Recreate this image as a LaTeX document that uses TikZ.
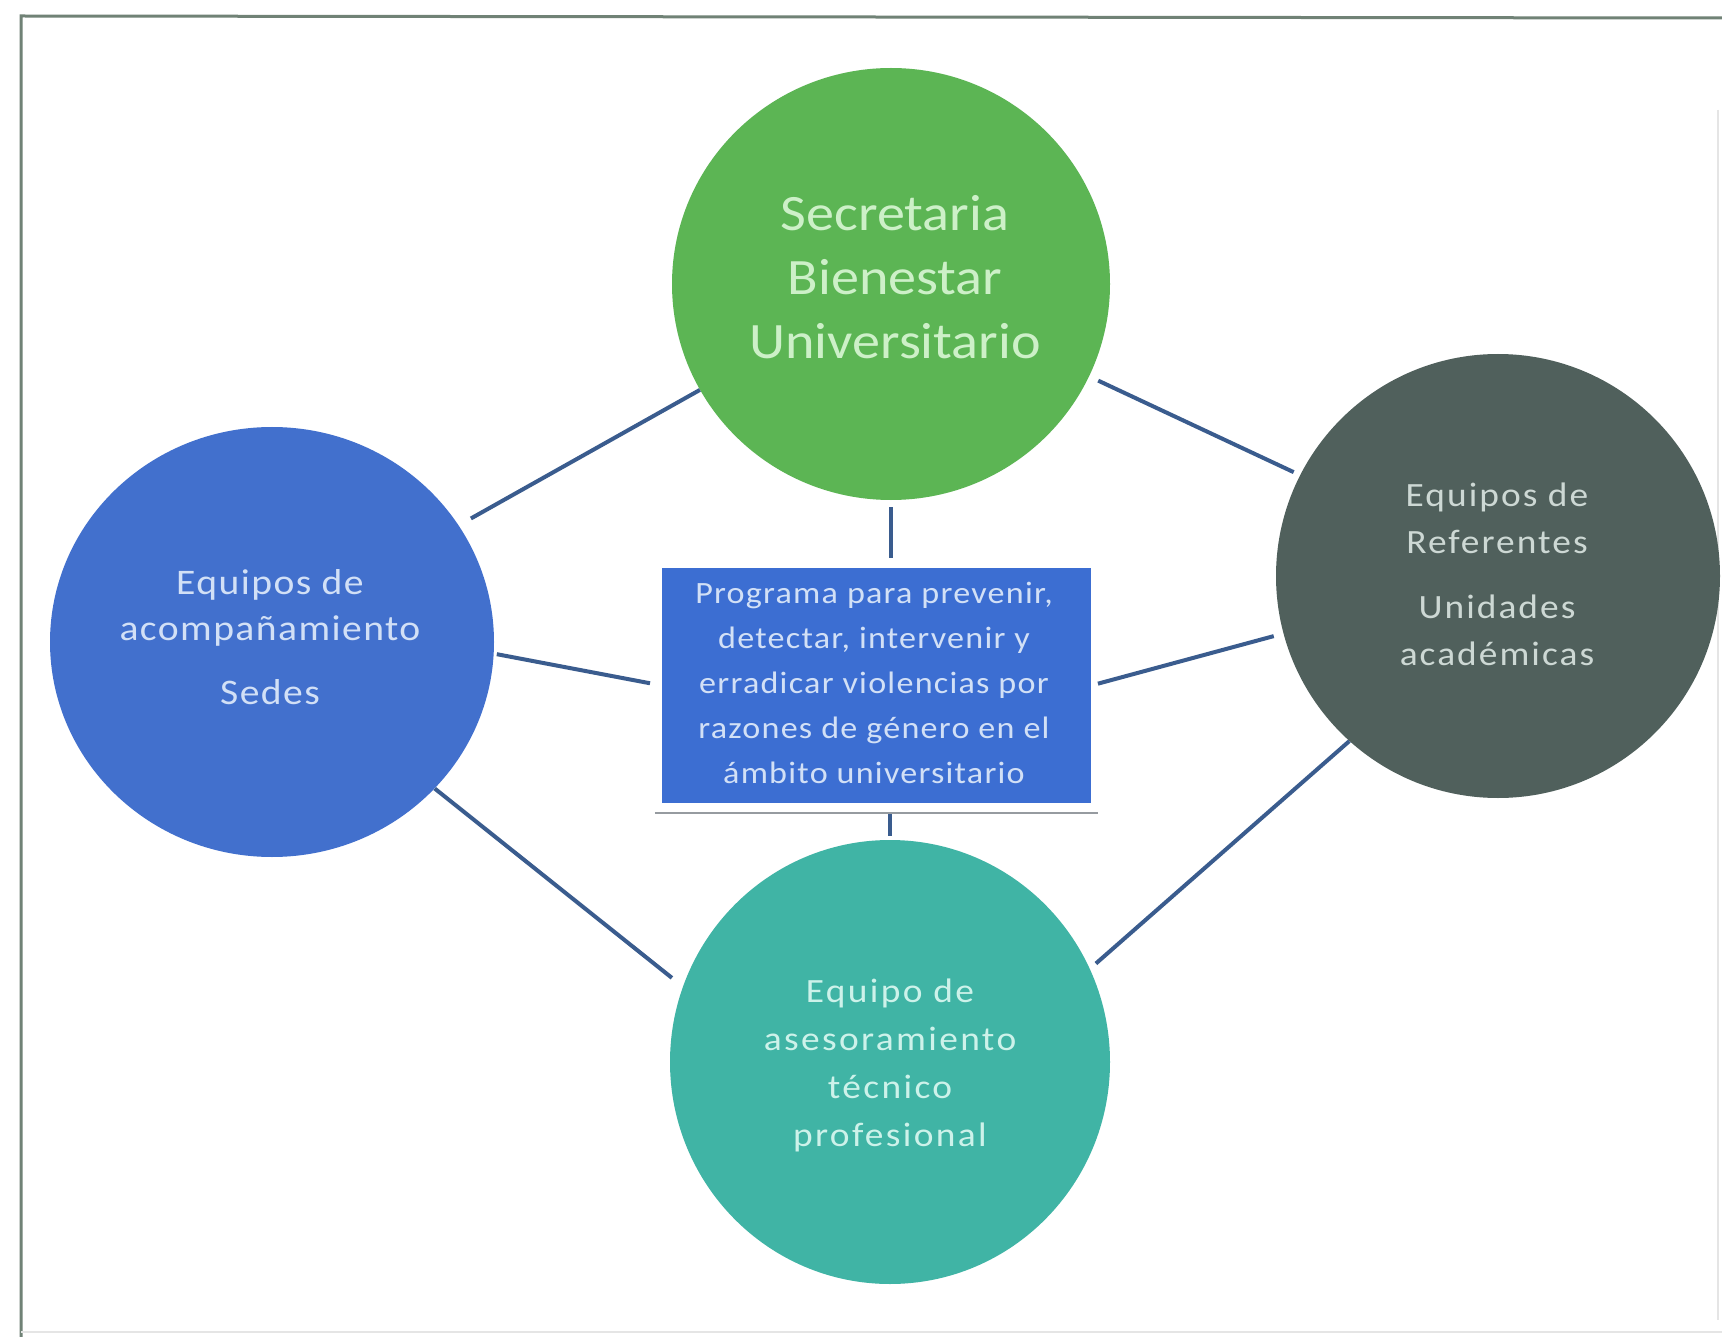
\documentclass[tikz,border=0pt]{standalone}
\usepackage{fontspec}
\setmainfont{Carlito}
\newfontfamily\fcal{Carlito}[FakeStretch=1.1]
\usetikzlibrary{shapes.geometric,calc}
\definecolor{cgreen}{RGB}{92,181,84}
\definecolor{cblue}{RGB}{66,112,205}
\definecolor{cdark}{RGB}{80,96,92}
\definecolor{cteal}{RGB}{64,180,165}
\definecolor{cbox}{RGB}{60,110,210}
\definecolor{linkc}{RGB}{58,92,142}
\definecolor{tgreen}{RGB}{205,240,200}
\definecolor{tblue}{RGB}{210,224,246}
\definecolor{tdark}{RGB}{205,216,212}
\definecolor{tteal}{RGB}{205,242,234}
\definecolor{framec}{RGB}{112,130,118}
\definecolor{shadowc}{RGB}{150,155,160}
\tikzset{
  circ/.style={ellipse, inner sep=0pt, draw=none},
  link/.style={draw=linkc, line width=4pt},
  lbl/.style={align=center, inner sep=0pt}
}
\begin{document}
\begin{tikzpicture}[x=1pt,y=-1pt]
\useasboundingbox (0,0) rectangle (1722,1337);
\fill[white] (0,0) rectangle (1722,1337);
% frame
\draw[framec, line width=3pt] (21,1337) -- (21,16) -- (1722,18);
\draw[black!10, line width=1.5pt] (1718,110) -- (1718,1320);
\draw[black!10, line width=1.5pt] (21,1332) -- (1722,1332);

% shapes
\node[circ, fill=cgreen, minimum width=438pt, minimum height=432pt] (sec) at (891,284) {};
\node[circ, fill=cblue, minimum width=444pt, minimum height=430pt] (acomp) at (272,642) {};
\node[circ, fill=cdark, minimum width=444pt, minimum height=444pt] (refer) at (1498,576) {};
\node[circ, fill=cteal, minimum width=440pt, minimum height=444pt] (asesor) at (890,1062) {};
\node[fill=cbox, minimum width=429pt, minimum height=235pt, inner sep=0pt] (prog) at (876.5,685.5) {};
\draw[shadowc, line width=2.5pt] ([xshift=-7pt,yshift=-10pt]prog.south west) -- ([xshift=7pt,yshift=-10pt]prog.south east);

% connectors
\draw[link, shorten >=14pt] (sec.209) -- (acomp.32);
\draw[link, shorten <=10pt, shorten >=7pt] (sec.335) -- (refer.153);
\draw[link, shorten <=3pt, shorten >=12pt] (acomp.357) -- (prog.west);
\draw[link, shorten <=7pt, shorten >=10pt] (prog.east) -- (refer.195);
\draw[link, shorten >=14pt] (acomp.318) -- (asesor.160);
\draw[link, shorten >=8pt] (refer.228.5) -- (asesor.25.5);
\draw[link, shorten <=7pt, shorten >=10pt] (sec.south) -- (sec.south |- prog.north);
\draw[link, shorten <=4pt, shorten >=11pt] (asesor.north) -- (asesor.north |- prog.south);

% texts
\node[lbl, text=tgreen, font={\fcal\fontsize{51}{64}\selectfont}] (tsec) at (895,277)
  {Secretaria\\Bienestar\\Universitario};
\node[lbl, text=tblue, font={\fcal\addfontfeature{LetterSpace=4}\fontsize{36}{46}\selectfont}] (tacomp) at (270,637)
  {Equipos de\\acompañamiento\\[18pt]Sedes};
\node[lbl, text=tdark, font={\fcal\addfontfeature{LetterSpace=6}\fontsize{34}{47}\selectfont}] (trefer) at (1497,574)
  {Equipos de\\Referentes\\[18pt]Unidades\\académicas};
\node[lbl, text=tteal, font={\fcal\addfontfeature{LetterSpace=7}\fontsize{34}{48}\selectfont}] (tasesor) at (890,1065)
  {Equipo de\\asesoramiento\\técnico\\profesional};
\node[lbl, text=tblue, font={\fcal\addfontfeature{LetterSpace=4}\fontsize{31}{45}\selectfont}] (tprog) at (874,683)
  {Programa para prevenir,\\detectar, intervenir y\\erradicar violencias por\\razones de género en el\\ámbito universitario};
\end{tikzpicture}
\end{document}
